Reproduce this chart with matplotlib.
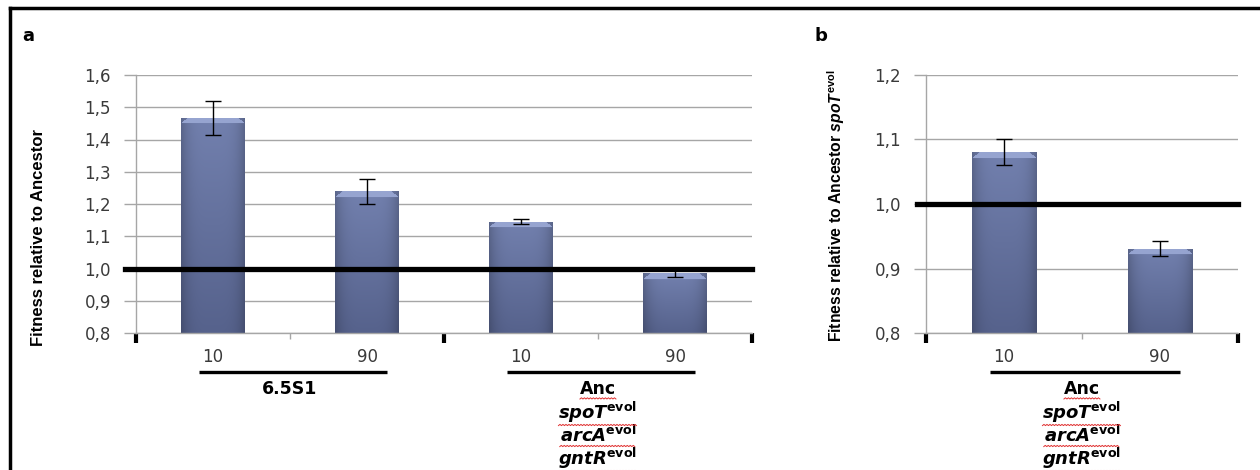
import numpy as np
import matplotlib
matplotlib.use("Agg")
import matplotlib.pyplot as plt
from matplotlib.lines import Line2D

# data
labels_a = ['10', '90', '10', '90']
fitness_a = [1.467, 1.239, 1.145, 0.985]
err_a = [0.052, 0.039, 0.008, 0.012]
groups_a = ['6.5S1', 'Anc']

labels_b = ['10', '90']
fitness_b = [1.080, 0.931]
err_b = [0.020, 0.012]

yticks_a = [0.8, 0.9, 1.0, 1.1, 1.2, 1.3, 1.4, 1.5, 1.6]
yticks_b = [0.8, 0.9, 1.0, 1.1, 1.2]
mutations = ['spoT', 'arcA', 'gntR']

W, H = 1260, 470
plt.rcParams['mathtext.fontset'] = 'custom'
plt.rcParams['mathtext.bf'] = 'DejaVu Sans:bold'
plt.rcParams['mathtext.bfit'] = 'DejaVu Sans:italic:bold'
plt.rcParams['mathtext.rm'] = 'Liberation Sans:bold'
plt.rcParams['mathtext.it'] = 'Liberation Sans:italic:bold'

fig = plt.figure(figsize=(W / 100, H / 100), dpi=100)
GRAY = '#a6a6a6'
TXT = '#3a3a3a'
NARROW = ['Liberation Sans', 'DejaVu Sans']


def px_axes(x0, y0, x1, y1):
    return fig.add_axes([x0 / W, 1 - y1 / H, (x1 - x0) / W, (y1 - y0) / H])


def shaded_bars(ax, xs, vals, width):
    bars = ax.bar(xs, [v - 0.8 for v in vals], width, bottom=0.8,
                  color='#64729f', edgecolor='none', zorder=2)
    fig.canvas.draw()
    for b in bars:
        x0, y0 = b.get_x(), b.get_y()
        w, h = b.get_width(), b.get_height()
        p0 = ax.transData.transform((x0, y0))
        p1 = ax.transData.transform((x0 + w, y0 + h))
        nw = max(int(p1[0] - p0[0]), 2)
        nh = max(int(p1[1] - p0[1]), 2)
        u = np.linspace(-1, 1, nw)
        v = np.linspace(0, 1, nh)[:, None]
        top = np.array([114, 128, 174]) / 255
        bot = np.array([86, 98, 140]) / 255
        base = top * (1 - v[..., None]) + bot * v[..., None]
        shade = 1 - 0.2 * np.abs(u) ** 4
        img = base * shade[None, :, None]
        bev = min(6, nh // 3)
        for r in range(bev):
            inset = int(nw * 0.12 * (bev - r) / bev)
            img[r, inset:nw - inset] = np.array([150, 164, 208]) / 255
        # row 0 of the image sits at the top of the bar
        im = ax.imshow(np.clip(img, 0, 1), extent=(x0, x0 + w, y0, y0 + h),
                       origin='upper', aspect='auto', zorder=2,
                       interpolation='bilinear')
        im.set_clip_path(b)
    return bars


def style_axis(ax, ncat, ticks, ymax):
    ax.set_xlim(-0.5, ncat - 0.5)
    ax.set_ylim(0.8, ymax)
    ax.set_yticks(ticks)
    ax.set_yticklabels([f'{t:.1f}'.replace('.', ',') for t in ticks],
                       fontsize=12, color=TXT)
    ax.tick_params(axis='y', length=9, color=GRAY, width=1, pad=9)
    ax.yaxis.grid(True, color=GRAY, lw=1)
    ax.set_axisbelow(True)
    for s in ['top', 'right']:
        ax.spines[s].set_visible(False)
    for s in ['left', 'bottom']:
        ax.spines[s].set_color(GRAY)
        ax.spines[s].set_linewidth(1)
    ax.set_xticks(np.arange(-0.5, ncat, 2))
    ax.set_xticks(np.arange(0.5, ncat, 2), minor=True)
    ax.tick_params(axis='x', which='major', length=7, width=3, color='black',
                   labelbottom=False)
    ax.tick_params(axis='x', which='minor', length=4, width=1, color=GRAY)
    ax.set_xticklabels([])
    ax.set_xticklabels([], minor=True)
    ax.set_facecolor('none')


squiggle_texts = []


def group_labels(ax, xs, cats, names):
    tr = ax.get_xaxis_transform()
    y_lab = -24 / ax.bbox.height
    for x, c in zip(xs, cats):
        ax.text(x, y_lab, c, ha='center', va='center', fontsize=12,
                color=TXT, transform=tr)
    for gi, name in enumerate(names):
        mid = 2 * gi + 0.5
        yline = -39 / ax.bbox.height
        ax.plot([mid - 0.59, mid + 0.63], [yline, yline], color='black',
                lw=2.4, transform=tr, clip_on=False, solid_capstyle='butt')
        t = ax.text(mid, -56 / ax.bbox.height, name, ha='center', va='center',
                    fontsize=12.5, fontweight='bold', color='black',
                    transform=tr)
        if name == 'Anc':
            squiggle_texts.append(t)
            for k, m in enumerate(mutations):
                t2 = ax.text(mid, (-79 - 23 * k) / ax.bbox.height,
                             r'$\mathbfit{' + m + r'}^{\mathbf{evol}}$',
                             ha='center', va='center', fontsize=13,
                             color='black', transform=tr)
                squiggle_texts.append(t2)


# panel a
ax_a = px_axes(136, 75, 752, 333)
style_axis(ax_a, len(labels_a), yticks_a, 1.6)
xa = np.arange(len(labels_a))
shaded_bars(ax_a, xa, fitness_a, 0.415)
ax_a.errorbar(xa, fitness_a, yerr=err_a, fmt='none', ecolor='black',
              elinewidth=1, capsize=6, capthick=1, zorder=3)
ax_a.axhline(1.0, xmin=-11 / 616, xmax=1, color='black', lw=3.8,
             clip_on=False, zorder=4)
group_labels(ax_a, xa, labels_a, groups_a)

# panel b
ax_b = px_axes(926, 75, 1238, 333)
style_axis(ax_b, len(labels_b), yticks_b, 1.2)
xb = np.arange(len(labels_b))
shaded_bars(ax_b, xb, fitness_b, 0.415)
ax_b.errorbar(xb, fitness_b, yerr=err_b, fmt='none', ecolor='black',
              elinewidth=1, capsize=6, capthick=1, zorder=3)
ax_b.axhline(1.0, xmin=-9 / 312, xmax=1, color='black', lw=3.8,
             clip_on=False, zorder=4)
group_labels(ax_b, xb, labels_b, ['Anc'])

# axis titles and panel letters
fig.text(39 / W, 1 - 238 / H, 'Fitness relative to Ancestor', rotation=90,
         ha='center', va='center', fontsize=12, family=NARROW, color='black',
         fontweight='bold')
fig.text(836 / W, 1 - 205 / H,
         r'Fitness relative to Ancestor $\mathit{spoT}^{\mathrm{evol}}$',
         rotation=90, ha='center', va='center', fontsize=11.3, family=NARROW,
         color='black', fontweight='bold')
fig.text(22 / W, 1 - 36 / H, 'a', fontsize=13, fontweight='bold',
         va='center', ha='left')
fig.text(815 / W, 1 - 36 / H, 'b', fontsize=13, fontweight='bold',
         va='center', ha='left')

# frame: top and left border
fig.add_artist(Line2D([10 / W, 1], [1 - 8 / H, 1 - 8 / H], color='black',
                      lw=2.5, transform=fig.transFigure))
fig.add_artist(Line2D([10 / W, 10 / W], [0, 1 - 8 / H], color='black',
                      lw=2.5, transform=fig.transFigure))

# red spell-check squiggles under the gene names
fig.canvas.draw()
rend = fig.canvas.get_renderer()
for t in squiggle_texts:
    bb = t.get_window_extent(rend)
    sx = np.arange(bb.x0, bb.x1, 1.5)
    sy = bb.y0 - 1 + 1.2 * (np.arange(len(sx)) % 2)
    fig.add_artist(Line2D(sx / W, sy / H, color='#e03030', lw=0.7,
                          transform=fig.transFigure))

fig.savefig('out.png', dpi=100)
